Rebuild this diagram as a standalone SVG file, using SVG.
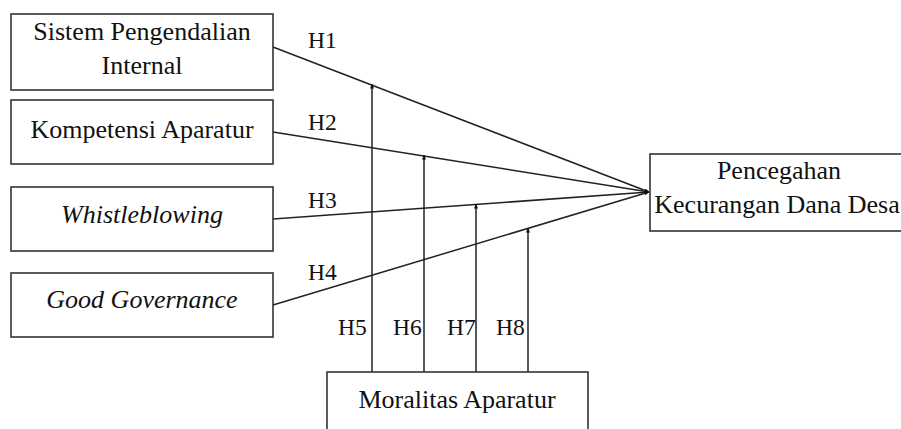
<svg xmlns="http://www.w3.org/2000/svg" width="901" height="429" viewBox="0 0 901 429">
<style>
.box{fill:#fff;stroke:#333;stroke-width:1.6}
text{font-family:'Liberation Serif','DejaVu Serif',serif;fill:#111}
.t{font-size:26px;text-anchor:middle}
.i{font-style:italic}
.h{font-size:23.5px}
.ln{stroke:#222;stroke-width:1.5;fill:none;marker-end:url(#ah)}
</style>
<defs>
<marker id="ah" viewBox="0 0 10 10" refX="9" refY="5" markerWidth="5" markerHeight="5" markerUnits="userSpaceOnUse" orient="auto">
<path d="M0,1 L10,5 L0,9 z" fill="#111"/>
</marker>
</defs>
<rect width="901" height="429" fill="#fff"/>
<g id="connectors">
<line class="ln" x1="273" y1="47" x2="649" y2="192"/>
<line class="ln" x1="273" y1="132" x2="649" y2="192"/>
<line class="ln" x1="273" y1="219" x2="649" y2="192"/>
<line class="ln" x1="273" y1="305" x2="649" y2="192"/>
<line class="ln" x1="372" y1="372" x2="372" y2="84"/>
<line class="ln" x1="424" y1="372" x2="424" y2="155"/>
<line class="ln" x1="476" y1="372" x2="476" y2="204"/>
<line class="ln" x1="528" y1="372" x2="528" y2="228"/>
<text class="h" x="308" y="48">H1</text>
<text class="h" x="308" y="130">H2</text>
<text class="h" x="308" y="208">H3</text>
<text class="h" x="308" y="280">H4</text>
<text class="h" x="338" y="335">H5</text>
<text class="h" x="393" y="335">H6</text>
<text class="h" x="447" y="335">H7</text>
<text class="h" x="496" y="335">H8</text>
</g>
<g id="spi">
<rect class="box" x="11" y="14" width="262" height="76"/>
<text class="t" x="142" y="40">Sistem Pengendalian</text>
<text class="t" x="142" y="74">Internal</text>
</g>
<g id="ka">
<rect class="box" x="11" y="100" width="262" height="64"/>
<text class="t" x="142" y="138">Kompetensi Aparatur</text>
</g>
<g id="wb">
<rect class="box" x="11" y="187" width="262" height="64"/>
<text class="t i" x="142" y="223">Whistleblowing</text>
</g>
<g id="gg">
<rect class="box" x="11" y="273" width="262" height="64"/>
<text class="t i" x="142" y="308">Good Governance</text>
</g>
<g id="pkdd">
<rect class="box" x="650" y="154" width="262" height="77"/>
<text class="t" x="779" y="179">Pencegahan</text>
<text class="t" x="777" y="213">Kecurangan Dana Desa</text>
</g>
<g id="ma">
<rect class="box" x="327" y="372" width="261" height="70"/>
<text class="t" x="457" y="408">Moralitas Aparatur</text>
</g>
</svg>
